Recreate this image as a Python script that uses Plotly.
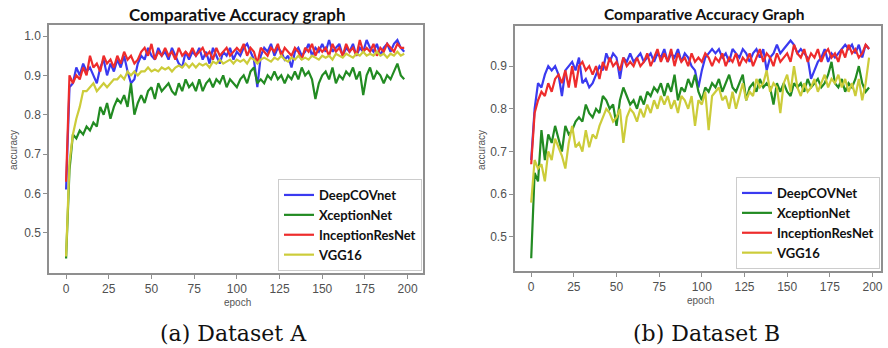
import plotly.graph_objects as go

EPOCHS = list(range(0, 200, 2))
SERIES_NAMES_A = ["DeepCOVnet", "XceptionNet", "InceptionResNet", "VGG16"]
SERIES_NAMES_B = ["DeepCOVNet", "XceptionNet", "InceptionResNet", "VGG16"]
X_TICKS = [0, 25, 50, 75, 100, 125, 150, 175, 200]
Y_TICKS_A = [0.5, 0.6, 0.7, 0.8, 0.9, 1.0]
Y_TICKS_B = [0.5, 0.6, 0.7, 0.8, 0.9]

# ---------- Dataset A ----------
deepcov_a = [
    0.61, 0.87, 0.88, 0.92, 0.90, 0.93, 0.91, 0.92, 0.90, 0.88,
    0.92, 0.94, 0.90, 0.93, 0.91, 0.94, 0.92, 0.95, 0.91, 0.88,
    0.89, 0.93, 0.95, 0.94, 0.97, 0.95, 0.94, 0.97, 0.95, 0.96,
    0.94, 0.97, 0.95, 0.93, 0.92, 0.96, 0.94, 0.96, 0.95, 0.97,
    0.94, 0.96, 0.93, 0.97, 0.95, 0.93, 0.96, 0.95, 0.97, 0.94,
    0.96, 0.95, 0.97, 0.98, 0.96, 0.94, 0.87, 0.95, 0.97, 0.96,
    0.98, 0.95, 0.97, 0.96, 0.94, 0.95, 0.92, 0.96, 0.97, 0.95,
    0.96, 0.98, 0.95, 0.97, 0.96, 0.98, 0.96, 0.99, 0.96, 0.97,
    0.98, 0.95, 0.97, 0.96, 0.98, 0.95, 0.97, 0.96, 0.99, 0.97,
    0.96, 0.98, 0.95, 0.97, 0.98, 0.96, 0.98, 0.99, 0.97, 0.96,
]
xception_a = [
    0.435, 0.66, 0.75, 0.74, 0.76, 0.75, 0.77, 0.76, 0.78, 0.77,
    0.82, 0.80, 0.83, 0.79, 0.82, 0.84, 0.83, 0.85, 0.82, 0.88,
    0.80, 0.83, 0.85, 0.83, 0.86, 0.87, 0.84, 0.88, 0.86, 0.87,
    0.88, 0.86, 0.85, 0.88, 0.86, 0.89, 0.87, 0.88, 0.86, 0.89,
    0.86, 0.88, 0.89, 0.87, 0.89, 0.88, 0.90, 0.87, 0.89, 0.88,
    0.87, 0.89, 0.90, 0.88, 0.91, 0.92, 0.88, 0.89, 0.88, 0.90,
    0.89, 0.91, 0.89, 0.90, 0.88, 0.90, 0.89, 0.91, 0.89, 0.92,
    0.90, 0.91, 0.89, 0.84, 0.88, 0.90, 0.91, 0.89, 0.92, 0.88,
    0.90, 0.89, 0.91, 0.90, 0.92, 0.89, 0.91, 0.85, 0.90, 0.92,
    0.89, 0.91, 0.90, 0.88, 0.90, 0.89, 0.91, 0.93, 0.90, 0.89,
]
inception_a = [
    0.63, 0.90, 0.88, 0.90, 0.89, 0.92, 0.90, 0.95, 0.92, 0.93,
    0.91, 0.95, 0.93, 0.94, 0.92, 0.95, 0.93, 0.96, 0.94, 0.95,
    0.93, 0.94, 0.96, 0.97, 0.95, 0.98, 0.94, 0.96, 0.95, 0.97,
    0.95, 0.96, 0.94, 0.97, 0.95, 0.96, 0.95, 0.97, 0.95, 0.96,
    0.97, 0.95, 0.96, 0.94, 0.97, 0.95, 0.96, 0.97, 0.95, 0.96,
    0.97, 0.96, 0.98, 0.95, 0.97, 0.96, 0.93, 0.97, 0.96, 0.95,
    0.97, 0.96, 0.98, 0.95, 0.97, 0.96, 0.95, 0.97, 0.96, 0.94,
    0.97, 0.96, 0.98, 0.95, 0.97, 0.96, 0.97, 0.95, 0.98, 0.96,
    0.97, 0.95, 0.98, 0.96, 0.97, 0.95, 0.99, 0.96, 0.97, 0.96,
    0.98, 0.95, 0.97, 0.96, 0.98, 0.97, 0.96, 0.98, 0.97, 0.97,
]
vgg_a = [
    0.44, 0.68, 0.75, 0.79, 0.82, 0.86, 0.86, 0.87, 0.88, 0.86,
    0.87, 0.88, 0.87, 0.88, 0.89, 0.89, 0.90, 0.89, 0.91, 0.90,
    0.91, 0.90, 0.91, 0.91, 0.92, 0.91, 0.915, 0.91, 0.92, 0.915,
    0.92, 0.91, 0.92, 0.925, 0.92, 0.93, 0.92, 0.93, 0.92, 0.93,
    0.925, 0.93, 0.92, 0.935, 0.93, 0.94, 0.93, 0.935, 0.94, 0.93,
    0.94, 0.935, 0.94, 0.93, 0.945, 0.94, 0.93, 0.94, 0.945, 0.94,
    0.935, 0.945, 0.94, 0.95, 0.94, 0.935, 0.945, 0.94, 0.95, 0.94,
    0.945, 0.94, 0.95, 0.945, 0.94, 0.95, 0.945, 0.95, 0.94, 0.955,
    0.95, 0.945, 0.955, 0.95, 0.945, 0.955, 0.95, 0.96, 0.95, 0.955,
    0.95, 0.96, 0.95, 0.955, 0.945, 0.955, 0.95, 0.96, 0.95, 0.955,
]

# ---------- Dataset B ----------
deepcov_b = [
    0.68, 0.80, 0.86, 0.85, 0.88, 0.90, 0.89, 0.90, 0.88, 0.83,
    0.89, 0.90, 0.91, 0.89, 0.92, 0.86, 0.87, 0.85, 0.86, 0.88,
    0.90, 0.89, 0.93, 0.91, 0.93, 0.92, 0.87, 0.92, 0.91, 0.93,
    0.91, 0.92, 0.93, 0.91, 0.92, 0.93, 0.91, 0.93, 0.92, 0.94,
    0.91, 0.93, 0.92, 0.94, 0.91, 0.93, 0.92, 0.90, 0.89, 0.85,
    0.89, 0.92, 0.93, 0.94, 0.93, 0.94, 0.92, 0.93, 0.91, 0.94,
    0.93, 0.92, 0.94, 0.93, 0.91, 0.93, 0.94, 0.92, 0.94, 0.89,
    0.92, 0.93, 0.95, 0.93, 0.94, 0.95, 0.96, 0.95, 0.93, 0.94,
    0.93, 0.92, 0.87, 0.89, 0.91, 0.92, 0.94, 0.91, 0.93, 0.92,
    0.93, 0.94, 0.95, 0.94, 0.95, 0.93, 0.95, 0.92, 0.95, 0.94,
]
xception_b = [
    0.45, 0.65, 0.63, 0.75, 0.68, 0.74, 0.72, 0.76, 0.73, 0.70,
    0.76, 0.74, 0.75, 0.77, 0.78, 0.77, 0.81, 0.79, 0.78, 0.80,
    0.79, 0.83, 0.82, 0.80, 0.81, 0.76, 0.82, 0.85, 0.83, 0.81,
    0.82, 0.80, 0.83, 0.81, 0.84, 0.83, 0.85, 0.84, 0.86, 0.83,
    0.86, 0.84, 0.88, 0.82, 0.85, 0.84, 0.87, 0.85, 0.88, 0.84,
    0.82, 0.85, 0.84, 0.86, 0.85, 0.87, 0.84, 0.86, 0.88, 0.85,
    0.84, 0.86, 0.88, 0.82, 0.85, 0.86, 0.84, 0.87, 0.85, 0.86,
    0.85, 0.81, 0.86, 0.84, 0.86, 0.84, 0.83, 0.86, 0.85, 0.86,
    0.84, 0.87, 0.85, 0.86, 0.87, 0.85, 0.86, 0.88, 0.91, 0.86,
    0.85, 0.87, 0.84, 0.86, 0.85, 0.87, 0.90, 0.86, 0.84, 0.85,
]
inception_b = [
    0.67, 0.79, 0.82, 0.84, 0.83, 0.86, 0.84, 0.87, 0.88, 0.86,
    0.89, 0.85, 0.90, 0.85, 0.90, 0.91, 0.89, 0.90, 0.88, 0.90,
    0.87, 0.91, 0.89, 0.92, 0.90, 0.91, 0.89, 0.92, 0.90, 0.91,
    0.90, 0.92, 0.90, 0.91, 0.93, 0.90, 0.92, 0.94, 0.91, 0.93,
    0.91, 0.94, 0.90, 0.93, 0.91, 0.92, 0.90, 0.93, 0.91, 0.92,
    0.91, 0.93, 0.92, 0.90, 0.92, 0.91, 0.93, 0.90, 0.92, 0.91,
    0.93, 0.90, 0.92, 0.91, 0.93, 0.90, 0.92, 0.94, 0.91, 0.93,
    0.92, 0.90, 0.93, 0.91, 0.92, 0.93, 0.91, 0.95, 0.93, 0.92,
    0.94, 0.91, 0.93, 0.92, 0.94, 0.91, 0.93, 0.94, 0.92, 0.93,
    0.91, 0.94, 0.92, 0.95, 0.93, 0.94, 0.92, 0.93, 0.95, 0.94,
]
vgg_b = [
    0.58, 0.68, 0.66, 0.67, 0.63, 0.70, 0.68, 0.73, 0.71, 0.69,
    0.66, 0.72, 0.76, 0.71, 0.72, 0.70, 0.75, 0.71, 0.74, 0.73,
    0.76, 0.78, 0.80, 0.79, 0.77, 0.78, 0.80, 0.72, 0.78, 0.80,
    0.79, 0.77, 0.80, 0.78, 0.81, 0.79, 0.82, 0.80, 0.83, 0.81,
    0.83, 0.80, 0.82, 0.79, 0.83, 0.82, 0.80, 0.83, 0.76, 0.82,
    0.81, 0.84, 0.75, 0.83, 0.84, 0.85, 0.82, 0.83, 0.80, 0.84,
    0.80, 0.83, 0.86, 0.82, 0.84, 0.83, 0.87, 0.85, 0.86, 0.89,
    0.84, 0.86, 0.85, 0.79, 0.86, 0.88, 0.84, 0.90, 0.85, 0.83,
    0.86, 0.84, 0.85, 0.87, 0.84, 0.86, 0.88, 0.85, 0.87, 0.86,
    0.88, 0.85, 0.87, 0.84, 0.86, 0.83, 0.87, 0.82, 0.86, 0.92,
]

COLORS = ["#3a3af0", "#228b22", "#ee2c2c", "#cccc3a"]
W, H = 888, 348

def px_x(p):
    return p / W

def px_y(p):
    return 1 - p / H

fig = go.Figure()
series_a = [deepcov_a, xception_a, inception_a, vgg_a]
series_b = [deepcov_b, xception_b, inception_b, vgg_b]
for name, vals, c in zip(SERIES_NAMES_A, series_a, COLORS):
    fig.add_trace(go.Scatter(x=EPOCHS, y=vals, mode="lines", name=name,
                             line=dict(color=c, width=2.2), xaxis="x", yaxis="y",
                             legend="legend"))
for name, vals, c in zip(SERIES_NAMES_B, series_b, COLORS):
    fig.add_trace(go.Scatter(x=EPOCHS, y=vals, mode="lines", name=name,
                             line=dict(color=c, width=2.2), xaxis="x2", yaxis="y2",
                             legend="legend2"))

tick_font = dict(family="Liberation Sans, Arial, sans-serif", size=12, color="#505050")
axis_common = dict(showline=True, mirror=True, linecolor="#8f8f8f", linewidth=1.5,
                   showgrid=False, zeroline=False, ticks="outside", ticklen=4,
                   tickcolor="#8f8f8f", tickfont=tick_font, automargin=False)

legend_font = dict(family="Lato, sans-serif", size=13, color="#111111", weight="bold")

fig.update_layout(
    width=W, height=H,
    margin=dict(l=0, r=0, t=0, b=0),
    paper_bgcolor="white", plot_bgcolor="white",
    xaxis=dict(domain=[px_x(49), px_x(423)], range=[-10, 209], anchor="y",
               tickvals=X_TICKS, **axis_common),
    yaxis=dict(domain=[px_y(273), px_y(25)], range=[0.398, 1.028], anchor="x",
               tickvals=Y_TICKS_A, ticktext=[f"{v:.1f}" for v in Y_TICKS_A], **axis_common),
    xaxis2=dict(domain=[px_x(515), px_x(881)], range=[-9.5, 205], anchor="y2",
                tickvals=X_TICKS, **axis_common),
    yaxis2=dict(domain=[px_y(271), px_y(26)], range=[0.420, 0.994], anchor="x2",
                tickvals=Y_TICKS_B, ticktext=[f"{v:.1f}" for v in Y_TICKS_B], **axis_common),
    legend=dict(x=px_x(422), y=px_y(271), xanchor="right", yanchor="bottom",
                bgcolor="white", bordercolor="#cccccc", borderwidth=1,
                font=legend_font, tracegroupgap=0, itemwidth=30),
    legend2=dict(x=px_x(880), y=px_y(269), xanchor="right", yanchor="bottom",
                 bgcolor="white", bordercolor="#cccccc", borderwidth=1,
                 font=legend_font, tracegroupgap=0, itemwidth=30),
    showlegend=True,
)

title_font_a = dict(family="Lato, sans-serif", size=17, color="#111111")
title_font_b = dict(family="Lato, sans-serif", size=15.5, color="#111111")
small_font = dict(family="Liberation Sans, Arial, sans-serif", size=10, color="#555555")
cap_font = dict(family="DejaVu Serif, serif", size=22, color="#111111")
annots = [
    dict(text="<b>Comparative Accuracy graph</b>", x=px_x(237), y=px_y(14), font=title_font_a),
    dict(text="<b>Comparative Accuracy Graph</b>", x=px_x(704), y=px_y(14), font=title_font_b),
    dict(text="epoch", x=px_x(237), y=px_y(302), font=small_font),
    dict(text="epoch", x=px_x(700), y=px_y(300), font=small_font),
    dict(text="accuracy", x=px_x(13), y=px_y(150), font=small_font, textangle=-90),
    dict(text="accuracy", x=px_x(481), y=px_y(150), font=small_font, textangle=-90),
    dict(text="(a) Dataset A", x=px_x(233), y=px_y(333), font=cap_font),
    dict(text="(b) Dataset B", x=px_x(706), y=px_y(333), font=cap_font),
]
for a in annots:
    fig.add_annotation(xref="paper", yref="paper", showarrow=False,
                       xanchor="center", yanchor="middle", **a)

fig.write_html("out.html")
